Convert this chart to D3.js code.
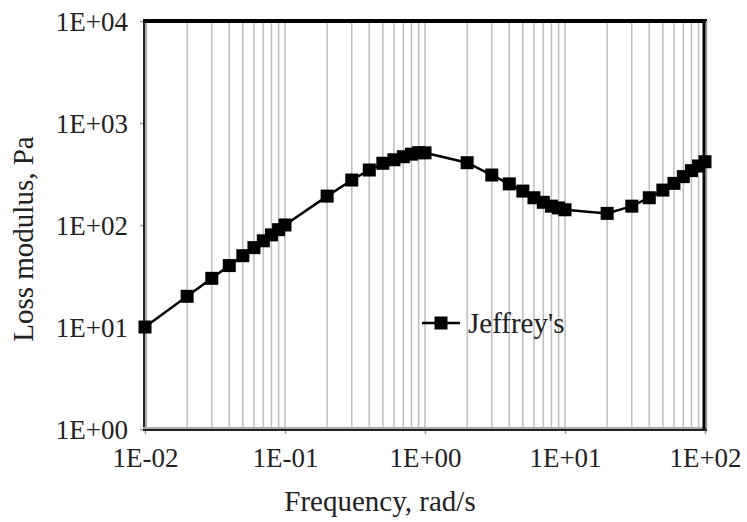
<!DOCTYPE html>
<html><head><meta charset="utf-8">
<script src="https://cdn.jsdelivr.net/npm/d3@7"></script>
<style>body{margin:0;background:#fff}svg{display:block}</style>
</head><body>
<svg id="c" width="747" height="522"></svg>
<script>
const freq = [0.01,0.02,0.03,0.04,0.05,0.06,0.07,0.08,0.09,0.1,
  0.2,0.3,0.4,0.5,0.6,0.7,0.8,0.9,1,
  2,3,4,5,6,7,8,9,10,
  20,30,40,50,60,70,80,90,100];
const lossModulus = [10,20,30,40,50,60,70,80,90,100,
  192,276,346,403,436,467,495,512,510,
  408,309,253,215,185,167,153,147,141,
  130,153,185,220,256,298,341,379,417];
const seriesName = "Jeffrey's";
const xTicks = [0.01,0.1,1,10,100];
const xTickLabels = ["1E-02","1E-01","1E+00","1E+01","1E+02"];
const yTicks = [1,10,100,1000,10000];
const yTickLabels = ["1E+00","1E+01","1E+02","1E+03","1E+04"];

const W=747,H=522, m={l:145,r:42,t:21,b:93};
const svg=d3.select("#c");
const x=d3.scaleLog().domain([0.01,100]).range([m.l,W-m.r]);
const y=d3.scaleLog().domain([1,10000]).range([H-m.b,m.t]);
const font="Liberation Serif, Times New Roman, serif";

// minor vertical gridlines
const grid=[];
for(let e=-2;e<2;e++){for(let k=1;k<=9;k++){grid.push(k*Math.pow(10,e));}}
grid.push(100);
svg.append("g").selectAll("line").data(grid).join("line")
  .attr("x1",d=>x(d)).attr("x2",d=>x(d))
  .attr("y1",y(10000)).attr("y2",y(1))
  .attr("stroke","#bdbdbd").attr("stroke-width",1.5);

// axes
const xa=svg.append("g").attr("transform",`translate(0,${y(1)})`)
  .call(d3.axisBottom(x).tickValues(xTicks).tickFormat((d,i)=>xTickLabels[i]).tickSize(5).tickPadding(14));
const ya=svg.append("g").attr("transform",`translate(${x(0.01)},0)`)
  .call(d3.axisLeft(y).tickValues(yTicks).tickFormat((d,i)=>yTickLabels[i]).tickSize(5).tickPadding(12));
[xa,ya].forEach(a=>{
  a.select(".domain").remove();
  a.selectAll(".tick line").attr("stroke","#999").attr("stroke-width",1.5);
  a.selectAll(".tick text").attr("font-family",font).attr("font-size",27).attr("fill","#222");
});
ya.selectAll(".tick text").attr("dy","0.34em");
xa.selectAll(".tick text").attr("dy","0.71em");

// frame
const fr=svg.append("g");
fr.append("line").attr("x1",x(0.01)+1).attr("x2",x(0.01)+1).attr("y1",y(10000)).attr("y2",y(1)).attr("stroke","#aaa").attr("stroke-width",2);
fr.append("line").attr("x1",x(0.01)-1).attr("x2",x(0.01)-1).attr("y1",y(10000)).attr("y2",y(1)+1).attr("stroke","#222").attr("stroke-width",2);
fr.append("line").attr("x1",x(0.01)-2).attr("x2",x(100)+2).attr("y1",y(1)-1).attr("y2",y(1)-1).attr("stroke","#aaa").attr("stroke-width",2);
fr.append("line").attr("x1",x(0.01)-2).attr("x2",x(100)+2).attr("y1",y(1)+1).attr("y2",y(1)+1).attr("stroke","#222").attr("stroke-width",2);
fr.append("line").attr("x1",x(0.01)-2).attr("x2",x(100)+2).attr("y1",y(10000)).attr("y2",y(10000)).attr("stroke","#000").attr("stroke-width",4);
fr.append("line").attr("x1",x(100)-1).attr("x2",x(100)-1).attr("y1",y(10000)).attr("y2",y(1)).attr("stroke","#000").attr("stroke-width",3);
fr.append("line").attr("x1",x(100)+1.5).attr("x2",x(100)+1.5).attr("y1",y(10000)).attr("y2",y(1)).attr("stroke","#999").attr("stroke-width",1.5);

// series
const data=freq.map((f,i)=>({f,v:lossModulus[i]}));
svg.append("path").datum(data)
  .attr("d",d3.line().x(d=>x(d.f)).y(d=>y(d.v)))
  .attr("fill","none").attr("stroke","#000").attr("stroke-width",2.5);
const S=13;
svg.append("g").selectAll("rect").data(data).join("rect")
  .attr("x",d=>x(d.f)-S/2).attr("y",d=>y(d.v)-S/2)
  .attr("width",S).attr("height",S).attr("fill","#000");

// legend
const lg=svg.append("g").attr("transform","translate(422,323)");
lg.append("line").attr("x1",0).attr("x2",38).attr("stroke","#000").attr("stroke-width",2.5);
lg.append("rect").attr("x",19-S/2).attr("y",-S/2).attr("width",S).attr("height",S).attr("fill","#000");
lg.append("text").attr("x",46).attr("y",10).text(seriesName)
  .attr("font-family",font).attr("font-size",29).attr("fill","#222");

// axis titles
svg.append("text").attr("x",380).attr("y",511).attr("text-anchor","middle")
  .attr("font-family",font).attr("font-size",29).attr("fill","#222").text("Frequency, rad/s");
svg.append("text").attr("transform",`translate(33,${(y(1)+y(10000))/2+14}) rotate(-90)`)
  .attr("text-anchor","middle")
  .attr("font-family",font).attr("font-size",29).attr("fill","#222").text("Loss modulus, Pa");
</script>
</body></html>
